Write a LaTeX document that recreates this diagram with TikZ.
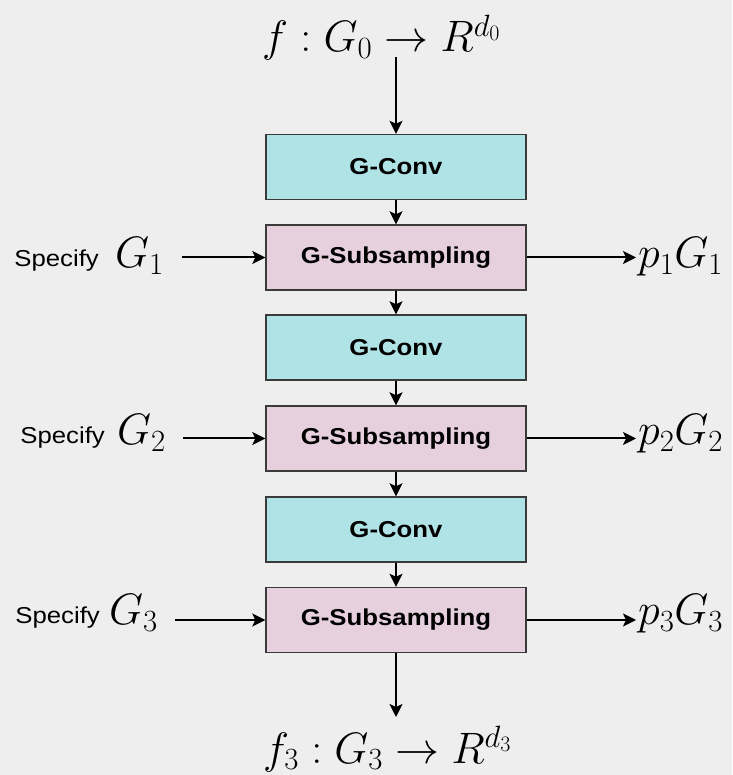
\RequirePackage{fix-cm}
\documentclass[tikz,border=0pt]{standalone}
\usepackage{fontspec}
\setsansfont{Liberation Sans}[FakeStretch=1.12]
\usetikzlibrary{arrows.meta}
\definecolor{bgc}{HTML}{EEEEEE}
\definecolor{convc}{HTML}{B0E3E6}
\definecolor{subc}{HTML}{E6D0DE}
\definecolor{edgec}{HTML}{3A3A3A}
\tikzset{
  blk/.style={draw=edgec, line width=1.4pt, minimum width=260pt, minimum height=65pt, inner sep=0pt,
    font=\fontsize{23}{27}\selectfont\sffamily\bfseries},
  convbox/.style={blk, fill=convc},
  subbox/.style={blk, fill=subc},
  arr/.style={line width=2pt, -{Stealth[length=13pt,width=13pt,inset=3pt]}},
  mathlbl/.style={inner sep=0pt, font=\fontsize{44}{52}\selectfont},
  spec/.style={inner sep=0pt, font=\fontsize{44}{52}\selectfont},
  spectxt/.style={font=\fontsize{23}{27}\selectfont\sffamily}
}
\begin{document}
\begin{tikzpicture}[x=1pt,y=1pt]
\fill[bgc] (0,0) rectangle (732,775);
\useasboundingbox (0,0) rectangle (732,775);

\node[mathlbl, anchor=base west] (top) at (262,723) {$f:G_0\rightarrow R^{d_0}$};
\coordinate (topstart) at (396,718);

\node[convbox] (c1) at (396,608) {G-Conv};
\node[subbox]  (s1) at (396,517.5) {G-Subsampling};
\node[convbox] (c2) at (396,427.5) {G-Conv};
\node[subbox]  (s2) at (396,336.5) {G-Subsampling};
\node[convbox] (c3) at (396,245.5) {G-Conv};
\node[subbox]  (s3) at (396,155) {G-Subsampling};

\coordinate (botend) at (396,58);
\node[mathlbl, anchor=base west] (bot) at (263,12) {$f_3:G_3\rightarrow R^{d_3}$};

\draw[arr] (topstart) -- (c1.north);
\draw[arr] (c1) -- (s1);
\draw[arr] (s1) -- (c2);
\draw[arr] (c2) -- (s2);
\draw[arr] (s2) -- (c3);
\draw[arr] (c3) -- (s3);
\draw[arr] (s3.south) -- (botend);

% left labels
\node[spec, anchor=base east] (g1) at (164,507) {$G_1$};
\node[spectxt, anchor=base east, inner sep=0pt] (sp1) at (99,508) {Specify};
\node[spec, anchor=base east] (g2) at (166,330) {$G_2$};
\node[spectxt, anchor=base east, inner sep=0pt] (sp2) at (105,331) {Specify};
\node[spec, anchor=base east] (g3) at (158,150) {$G_3$};
\node[spectxt, anchor=base east, inner sep=0pt] (sp3) at (100,151) {Specify};

\coordinate (l1) at (182,517.5);
\coordinate (l2) at (183,336.5);
\coordinate (l3) at (175,155);
\draw[arr] (l1) -- (s1.west);
\draw[arr] (l2) -- (s2.west);
\draw[arr] (l3) -- (s3.west);

% right labels
\node[spec, anchor=base west] (p1) at (638,507) {$p_1G_1$};
\node[spec, anchor=base west] (p2) at (638,330) {$p_2G_2$};
\node[spec, anchor=base west] (p3) at (638,150) {$p_3G_3$};
\coordinate (r1) at (636,517.5);
\coordinate (r2) at (636,336.5);
\coordinate (r3) at (636,155);
\draw[arr] (s1.east) -- (r1);
\draw[arr] (s2.east) -- (r2);
\draw[arr] (s3.east) -- (r3);
\end{tikzpicture}
\end{document}
